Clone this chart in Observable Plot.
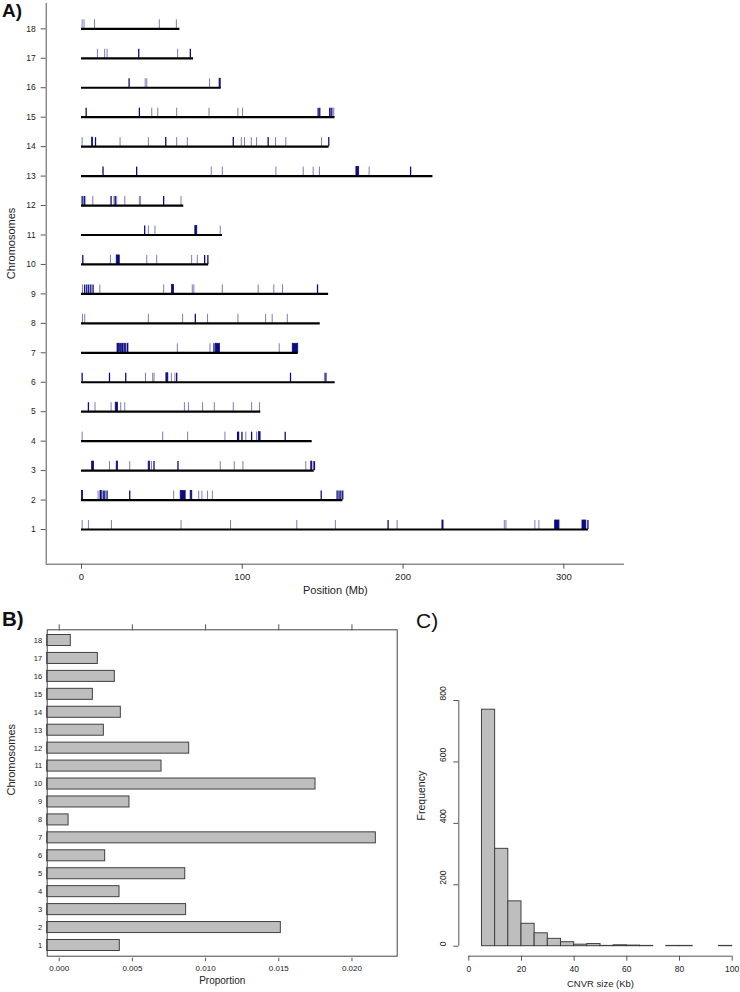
<!DOCTYPE html>
<html><head><meta charset="utf-8">
<script src="https://cdn.jsdelivr.net/npm/d3@7"></script>
<script src="https://cdn.jsdelivr.net/npm/@observablehq/plot@0.6"></script>
<style>
body{margin:0;background:#fff;}
#wrap{position:relative;width:740px;height:992px;overflow:hidden;font-family:"Liberation Sans",Arial,Helvetica,sans-serif;}
.panel{position:absolute;}
.tag{position:absolute;color:#111;line-height:1;font-family:"Liberation Sans",Arial,sans-serif;}
</style></head><body>
<div id="wrap">
  <div id="pa" class="panel" style="left:0;top:0"></div>
  <div id="pb" class="panel" style="left:0;top:590px"></div>
  <div id="pc" class="panel" style="left:400px;top:590px"></div>
  <div class="tag" style="left:2px;top:1px;font-size:19px;font-weight:bold">A)</div>
  <div class="tag" style="left:2px;top:609px;font-size:20.5px;font-weight:bold">B)</div>
  <div class="tag" style="left:416px;top:610px;font-size:21px">C)</div>
</div>
<script>
// ---------- Panel A data ----------
const chromosomes = [1,2,3,4,5,6,7,8,9,10,11,12,13,14,15,16,17,18];
const chromLengths = [315.3,162.6,144.8,143.5,111.5,157.8,134.8,148.5,153.7,79.1,87.7,63.6,218.6,154.0,157.7,86.9,69.7,61.2];
const positionTicks = [0,100,200,300];
// CNVR marks per chromosome: [start Mb, end Mb, dark(1)/light(0)]
const cnv1 = [[0.4,0.4,0],[4.3,4.3,0],[18.6,18.6,0],[61.9,61.9,0],[92.7,92.7,0],[133.9,133.9,0],[157.9,157.9,0],[190.7,190.7,1],[196.3,196.3,0],[224.5,225.2,1],[263.0,263.0,0],[264.0,264.0,0],[282.0,282.0,0],[284.5,284.5,0],[294.6,297.3,1],[311.6,314.0,1],[315.0,315.0,1]];
const cnv2 = [[0.3,1.0,1],[10.3,10.3,0],[11.8,12.6,1],[13.5,13.5,1],[14.5,14.5,1],[15.9,15.9,1],[30.0,30.0,1],[57.3,57.3,0],[61.7,64.8,1],[67.9,68.9,1],[72.9,72.9,0],[74.9,74.9,0],[78.4,78.4,0],[81.4,81.4,0],[149.1,149.1,1],[159.0,159.0,1],[160.2,160.2,1],[161.3,161.3,1],[162.5,162.5,1]];
const cnv3 = [[6.6,7.8,1],[17.4,17.4,0],[21.9,22.7,1],[30.0,30.0,0],[41.8,42.6,1],[43.5,43.5,0],[45.1,45.1,1],[60.0,60.0,1],[86.3,86.3,0],[95.0,95.0,0],[100.4,100.4,0],[139.5,139.5,0],[142.9,143.6,1],[144.3,144.3,0],[144.9,144.9,1]];
const cnv4 = [[0.4,0.4,0],[50.5,50.5,0],[66.0,66.0,0],[89.2,89.2,0],[97.1,97.1,1],[97.7,97.7,1],[99.8,99.8,1],[102.2,102.2,0],[105.8,105.8,1],[108.9,108.9,0],[110.3,111.4,1],[126.7,126.7,1]];
const cnv5 = [[4.3,4.3,1],[8.4,8.4,0],[18.4,18.4,0],[21.3,22.7,1],[24.4,24.4,0],[26.9,26.9,0],[64.0,64.0,0],[66.5,66.5,0],[75.3,75.3,0],[82.6,82.6,0],[94.4,94.4,0],[105.8,105.8,0],[110.7,110.7,0]];
const cnv6 = [[0.4,0.4,1],[17.4,17.4,1],[27.5,27.5,1],[39.8,39.8,0],[44.3,44.3,0],[45.1,45.1,0],[52.8,54.0,1],[55.9,55.9,0],[58.1,58.1,0],[59.2,59.2,1],[130.0,130.0,1],[151.1,151.1,0],[152.0,152.0,1]];
const cnv7 = [[22.4,23.4,1],[24.0,24.6,1],[25.3,26.2,1],[26.9,27.6,1],[28.6,29.2,1],[59.6,59.6,0],[79.9,79.9,0],[82.4,82.4,1],[83.6,86.1,1],[123.0,123.0,0],[131.4,134.8,1]];
const cnv8 = [[0.6,0.6,0],[2.0,2.0,0],[41.6,41.6,0],[62.9,62.9,0],[70.8,70.8,1],[78.4,78.4,0],[97.3,97.3,0],[114.5,114.5,0],[118.6,118.6,0],[128.0,128.0,0]];
const cnv9 = [[0.6,0.6,0],[2.0,2.0,1],[3.3,3.3,1],[4.5,4.5,1],[5.8,5.8,1],[7.2,7.2,1],[11.4,11.4,0],[51.1,51.1,0],[56.3,57.5,1],[68.9,68.9,0],[69.9,69.9,0],[87.6,87.6,0],[109.9,109.9,0],[119.6,119.6,0],[125.0,125.0,0],[146.8,146.8,1]];
const cnv10 = [[0.8,0.8,1],[18.0,18.0,0],[21.9,23.8,1],[40.6,40.6,0],[46.8,46.8,0],[68.5,68.5,0],[72.0,72.0,0],[76.6,76.6,1],[78.6,78.6,1]];
const cnv11 = [[39.3,39.3,1],[41.6,41.6,0],[45.7,45.7,0],[70.8,72.0,1],[86.3,86.3,0]];
const cnv12 = [[0.4,0.4,1],[1.2,1.2,0],[2.0,2.0,1],[7.0,7.0,0],[18.4,18.4,1],[20.2,20.2,0],[21.0,21.0,1],[21.9,21.9,0],[26.9,26.9,0],[36.0,36.0,0],[36.6,36.6,0],[51.1,51.1,1],[61.9,61.9,0]];
const cnv13 = [[13.4,13.4,1],[34.3,34.3,1],[80.7,80.7,0],[87.6,87.6,0],[120.9,120.9,0],[137.9,137.9,0],[144.1,144.1,0],[148.0,148.0,0],[171.0,172.7,1],[178.9,178.9,0],[204.7,204.7,1]];
const cnv14 = [[0.4,0.4,0],[6.6,7.2,1],[8.7,8.7,1],[24.0,24.0,0],[41.6,41.6,0],[52.4,52.4,1],[59.2,59.2,0],[65.8,65.8,0],[94.4,94.4,1],[99.4,99.4,0],[101.4,101.4,0],[105.6,105.6,0],[108.9,108.9,0],[116.1,116.1,1],[120.7,120.7,0],[127.1,127.1,0],[149.3,149.3,0],[153.8,153.8,1]];
const cnv15 = [[2.9,2.9,1],[36.0,36.0,1],[43.7,43.7,0],[47.4,47.4,0],[59.2,59.2,0],[79.3,79.3,0],[97.3,97.3,0],[100.2,100.2,0],[147.2,147.2,1],[148.2,148.2,1],[154.4,154.4,1],[155.3,155.3,1],[156.2,156.2,0],[156.9,156.9,0]];
const cnv16 = [[29.6,29.6,1],[39.6,39.6,0],[40.6,40.6,0],[79.7,79.7,0],[85.9,86.6,1]];
const cnv17 = [[9.9,9.9,0],[14.4,14.4,0],[15.9,15.9,0],[35.6,35.6,1],[59.8,59.8,0],[67.7,67.7,1]];
const cnv18 = [[0.4,0.4,0],[1.6,1.6,0],[8.1,8.1,0],[48.4,48.4,0],[59.0,59.0,0]];

// ---------- Panel B data ----------
const proportions = [0.00414,0.01514,0.00867,0.00412,0.00861,0.00314,0.02163,0.00064,0.00480,0.01751,0.00699,0.00888,0.00305,0.00421,0.00230,0.00380,0.00264,0.00079];
const proportionTicks = [0,0.005,0.010,0.015,0.020];

// ---------- Panel C data ----------
const binStarts = [5,10,15,20,25,30,35,40,45,50,55,60,65,70,75,80,85,90,95];
const binCounts = [770,317,146,73,42,24,13,5,7,1,3,2,1,0,1,1,0,0,1];
const binWidth = 5;
const sizeTicks = [0,20,40,60,80,100];
const freqTicks = [0,200,400,600,800];

const FONT = '"Liberation Sans",Arial,Helvetica,sans-serif';
const AXIS = "#555";
const TXT = "#222";
const LIGHT = "#7b7bbf";
const DARK = "#0c0c82";

// ---------- Panel A ----------
const cnvLists = [cnv1,cnv2,cnv3,cnv4,cnv5,cnv6,cnv7,cnv8,cnv9,cnv10,cnv11,cnv12,cnv13,cnv14,cnv15,cnv16,cnv17,cnv18];
const chromTable = chromosomes.map((c,i)=>({chr:c, start:0, len:chromLengths[i]}));
const cnvRows = [];
cnvLists.forEach((arr,i)=>arr.forEach(([s,e,t])=>cnvRows.push({chr:chromosomes[i], s, e, t, top:chromosomes[i]+0.306})));
const singlesLight = cnvRows.filter(d=>d.s===d.e && !d.t);
const singlesDark = cnvRows.filter(d=>d.s===d.e && d.t);
const blocks = cnvRows.filter(d=>d.s!==d.e);

const xA = [-21.96, 337.75];
const yA = [-0.178, 18.86];

const plotA = Plot.plot({
  width:740, height:600,
  marginLeft:45.7, marginRight:116, marginTop:3, marginBottom:36.3,
  x:{domain:xA, label:null},
  y:{domain:yA, label:null},
  style:{fontFamily:FONT, background:"transparent", color:TXT, overflow:"visible"},
  marks:[
    Plot.ruleX([xA[0]], {y1:yA[0], y2:yA[1], stroke:AXIS}),
    Plot.ruleY([yA[0]], {x1:xA[0], x2:xA[1], stroke:AXIS}),
    Plot.axisX({ticks:positionTicks, tickSize:5, tickPadding:4, fontSize:9.5, stroke:AXIS, fill:TXT}),
    Plot.axisY({ticks:chromosomes, tickSize:5, tickPadding:5.5, fontSize:8.5, stroke:AXIS, fill:TXT}),
    Plot.ruleX(singlesLight, {x:"s", y1:"chr", y2:"top", stroke:LIGHT, strokeWidth:1}),
    Plot.ruleX(singlesDark, {x:"s", y1:"chr", y2:"top", stroke:DARK, strokeWidth:1.3}),
    Plot.rect(blocks, {x1:"s", x2:"e", y1:"chr", y2:"top", fill:DARK, stroke:DARK, strokeWidth:0.8}),
    Plot.ruleY(chromTable, {y:"chr", x1:"start", x2:"len", stroke:"#000", strokeWidth:2.2}),
    Plot.text(["Position (Mb)"], {frameAnchor:"bottom", dy:29.3, fontSize:11, fill:TXT}),
    Plot.text(["Chromosomes"], {frameAnchor:"left", dx:-34.7, dy:-4.7, rotate:-90, fontSize:11, fill:TXT})
  ]
});
document.getElementById("pa").appendChild(plotA);

// ---------- Panel B ----------
const xB = [-0.00082, 0.02309];
const yB = [0.403, 18.597];
const propTable = chromosomes.map((c,i)=>({chr:c, v:proportions[i], lo:c-0.307, hi:c+0.307, base:xB[0]}));
const plotB = Plot.plot({
  width:400, height:402,
  marginLeft:46.7, marginRight:3.3, marginTop:39.3, marginBottom:36.3,
  x:{domain:xB, label:null},
  y:{domain:yB, label:null},
  style:{fontFamily:FONT, background:"transparent", color:TXT, overflow:"visible"},
  marks:[
    Plot.rect(propTable, {x1:"base", x2:"v", y1:"lo", y2:"hi", fill:"#bebebe", stroke:"#404040", strokeWidth:1}),
    Plot.frame({stroke:"#444"}),
    Plot.axisX({anchor:"top", ticks:proportionTicks, tickSize:6, tickFormat:()=>"", stroke:AXIS}),
    Plot.axisX({anchor:"bottom", ticks:proportionTicks, tickSize:3.5, dy:2, tickPadding:3.8, tickFormat:d3.format(".3f"), fontSize:8, stroke:AXIS, fill:TXT}),
    Plot.axisY({ticks:chromosomes, tickSize:0, tickPadding:5, fontSize:7.5, fill:TXT}),
    Plot.text(["Proportion"], {frameAnchor:"bottom", dy:27.6, fontSize:10, fill:TXT}),
    Plot.text(["Chromosomes"], {frameAnchor:"left", dx:-35.7, dy:2.5, rotate:-90, fontSize:11, fill:TXT})
  ]
});
document.getElementById("pb").appendChild(plotB);

// ---------- Panel C ----------
const histTable = binStarts.map((s,i)=>({lo:s, hi:s+binWidth, count:binCounts[i]}));
const plotC = Plot.plot({
  width:340, height:402,
  marginLeft:68.3, marginRight:8.3, marginTop:110, marginBottom:46.3,
  x:{domain:[sizeTicks[0], sizeTicks[sizeTicks.length-1]], label:null},
  y:{domain:[freqTicks[0], freqTicks[freqTicks.length-1]], label:null},
  style:{fontFamily:FONT, background:"transparent", color:TXT, overflow:"visible"},
  marks:[
    Plot.rectY(histTable, {x1:"lo", x2:"hi", y:"count", fill:"#bebebe", stroke:"#404040", strokeWidth:1}),
    Plot.ruleY([freqTicks[0]], {x1:sizeTicks[0], x2:sizeTicks[sizeTicks.length-1], dy:10, stroke:AXIS}),
    Plot.ruleX([sizeTicks[0]], {y1:freqTicks[0], y2:freqTicks[freqTicks.length-1], dx:-10, stroke:AXIS}),
    Plot.axisX({ticks:sizeTicks, tickSize:5, dy:10, tickPadding:5, fontSize:8.5, stroke:AXIS, fill:TXT}),
    Plot.axisY({ticks:freqTicks, tickSize:5, dx:-10, tickFormat:()=>"", stroke:AXIS}),
    Plot.text(freqTicks, {y:d=>d, frameAnchor:"left", dx:-25.6, rotate:-90, fontSize:8.5, fill:TXT}),
    Plot.text(["Frequency"], {frameAnchor:"left", dx:-47.6, dy:-2.9, rotate:-90, fontSize:10.5, fill:TXT}),
    Plot.text(["CNVR size (Kb)"], {frameAnchor:"bottom", dy:41, fontSize:9.5, fill:TXT})
  ]
});
document.getElementById("pc").appendChild(plotC);
</script>
</body></html>
